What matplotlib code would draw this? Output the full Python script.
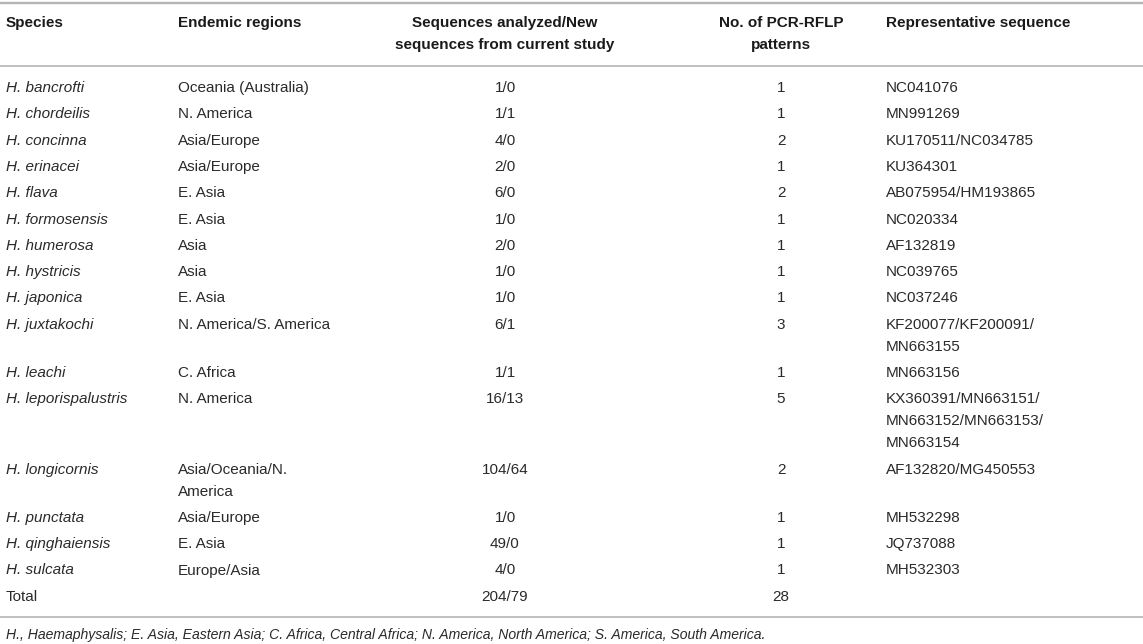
import matplotlib
matplotlib.use("Agg")
import matplotlib.pyplot as plt

plt.rcParams['font.family'] = ['Liberation Sans', 'DejaVu Sans']

headers = ["Species", "Endemic regions",
           "Sequences analyzed/New\nsequences from current study",
           "No. of PCR-RFLP\npatterns", "Representative sequence"]

species = ["H. bancrofti", "H. chordeilis", "H. concinna", "H. erinacei", "H. flava",
           "H. formosensis", "H. humerosa", "H. hystricis", "H. japonica", "H. juxtakochi",
           "H. leachi", "H. leporispalustris", "H. longicornis", "H. punctata",
           "H. qinghaiensis", "H. sulcata", "Total"]

regions = ["Oceania (Australia)", "N. America", "Asia/Europe", "Asia/Europe", "E. Asia",
           "E. Asia", "Asia", "Asia", "E. Asia", "N. America/S. America",
           "C. Africa", "N. America", "Asia/Oceania/N.\nAmerica", "Asia/Europe",
           "E. Asia", "Europe/Asia", ""]

sequences = ["1/0", "1/1", "4/0", "2/0", "6/0", "1/0", "2/0", "1/0", "1/0", "6/1",
             "1/1", "16/13", "104/64", "1/0", "49/0", "4/0", "204/79"]

patterns = ["1", "1", "2", "1", "2", "1", "1", "1", "1", "3",
            "1", "5", "2", "1", "1", "1", "28"]

representative = ["NC041076", "MN991269", "KU170511/NC034785", "KU364301",
                  "AB075954/HM193865", "NC020334", "AF132819", "NC039765", "NC037246",
                  "KF200077/KF200091/\nMN663155", "MN663156",
                  "KX360391/MN663151/\nMN663152/MN663153/\nMN663154",
                  "AF132820/MG450553", "MH532298", "JQ737088", "MH532303", ""]

footnote = ("H., Haemaphysalis; E. Asia, Eastern Asia; C. Africa, Central Africa; "
            "N. America, North America; S. America, South America.")

W, H = 1143, 644
fig = plt.figure(figsize=(W / 100, H / 100), dpi=100)
ax = fig.add_axes([0, 0, 1, 1])
ax.set_xlim(0, W)
ax.set_ylim(H, 0)
ax.axis('off')

# column anchors (pixels)
col_x = [6, 178, 505, 781, 886]
col_ha = ['left', 'left', 'center', 'center', 'left']

fs = 11
line_h = 22.0
row_gap = 26.3
txt_color = '#2a2a2a'
rule_color = '#b5b5b5'

ax.axhline(3, color=rule_color, lw=1.7)
for x, ha, h in zip(col_x, col_ha, headers):
    for k, part in enumerate(h.split('\n')):
        ax.text(x, 23 + k * line_h, part, ha=ha, va='center', fontsize=fs,
                fontweight='bold', color='#1a1a1a')
ax.axhline(66, color=rule_color, lw=1.2)

y = 88.0
for i in range(len(species)):
    cells = [species[i], regions[i], sequences[i], patterns[i], representative[i]]
    nlines = max(c.count('\n') + 1 for c in cells)
    for j, (x, ha, c) in enumerate(zip(col_x, col_ha, cells)):
        for k, part in enumerate(c.split('\n')):
            style = 'italic' if (j == 0 and species[i] != "Total") else 'normal'
            ax.text(x, y + k * line_h, part, ha=ha, va='center', fontsize=fs,
                    style=style, color=txt_color)
    y += (nlines - 1) * line_h + row_gap

ax.axhline(617, color=rule_color, lw=1.2)
ax.text(6, 635, footnote, ha='left', va='center', fontsize=10.1, style='italic',
        color=txt_color)

fig.savefig("out.png", dpi=100)
